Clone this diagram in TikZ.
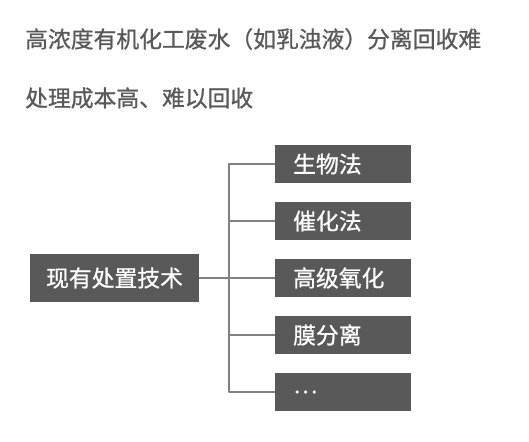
\documentclass[tikz,border=0pt]{standalone}
\usepackage{fontspec}
\newfontfamily\cjk[FakeBold=0.9]{Noto Sans CJK SC}
\usetikzlibrary{positioning}
\definecolor{boxgray}{HTML}{595959}
\definecolor{linegray}{HTML}{808080}
\definecolor{textgray}{HTML}{595959}
\begin{document}
\begin{tikzpicture}[x=1pt,y=-1pt,line join=round,font=\cjk\fontsize{22.8}{26}\selectfont,
	box/.style={fill=boxgray,text=white,inner sep=0pt,minimum height=48pt,minimum width=169pt},
	method/.style={fill=boxgray,text=white,inner ysep=0pt,inner xsep=18pt,minimum height=38pt,text width=100pt,align=left,anchor=west},
	link/.style={draw=linegray,line width=1.6pt}]
	\useasboundingbox (0,0) rectangle (529,441);
	\node[anchor=west,inner sep=0pt,text=textgray] (title) at (25,39) {高浓度有机化工废水（如乳浊液）分离回收难};
	\node[anchor=west,inner sep=0pt,text=textgray] (cost) at (25,98) {处理成本高、难以回收};
	\node[box] (tech) at (114.5,278) {现有处置技术};
	\foreach \t [count=\i] in {生物法,催化法,高级氧化,膜分离,\dots}{
		\node[method] (m\i) at (275,{164+57*(\i-1)}) {\t};}
	\coordinate (bus) at (229,0);
	\draw[link] (m1.west)--(m1.west-|bus)--(m5.west-|bus)--(m5.west);
	\foreach \i in {2,3,4}{\draw[link] (m\i.west)--(m\i.west-|bus);}
	\draw[link] (tech.east)--(m3.west);
\end{tikzpicture}
\end{document}
